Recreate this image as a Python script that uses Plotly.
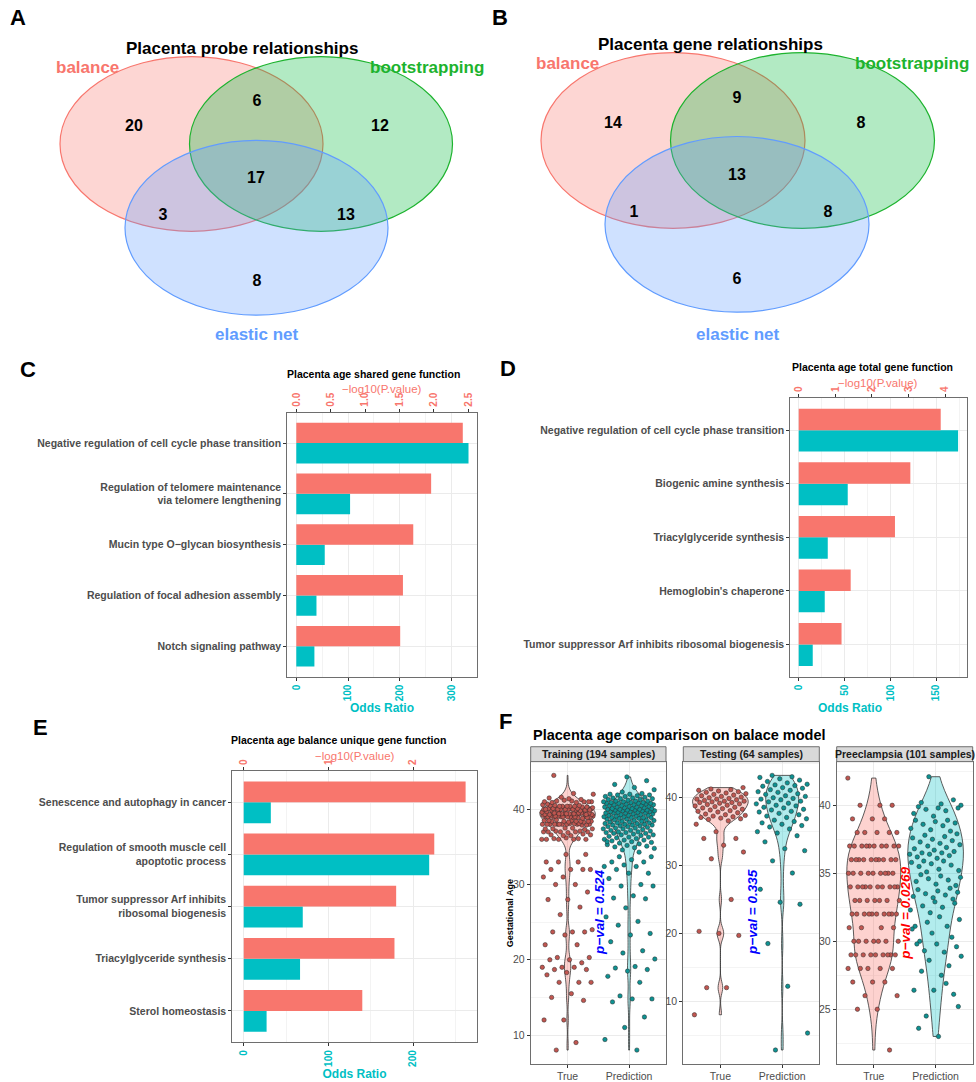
import numpy as np
import plotly.graph_objects as go

W, H = 976, 1082
FONT = "Liberation Sans, Arial, sans-serif"
RED, CYAN = "#F8766D", "#00BFC4"
SET_COLORS = ["#F8766D", "#1DB32E", "#619CFF"]
SET_FILLS = ["rgba(248,118,109,0.30)", "rgba(0,186,56,0.30)", "rgba(97,156,255,0.30)"]

# ---------------- Venn counts ----------------
venn_sets = ["balance", "bootstrapping", "elastic net"]
# region order: bal only, bal&boot, boot only, all three, bal&enet, boot&enet, enet only
probe_counts = [20, 6, 12, 17, 3, 13, 8]
gene_counts = [14, 9, 8, 13, 1, 8, 6]

# ---------------- enrichment results ----------------
shared_terms = ["Negative regulation of cell cycle phase transition",
                "Regulation of telomere maintenance<br>via telomere lengthening",
                "Mucin type O\u2212glycan biosynthesis",
                "Regulation of focal adhesion assembly",
                "Notch signaling pathway"]
shared_neglogp = [2.42, 1.96, 1.70, 1.55, 1.51]
shared_or = [333, 104, 55, 39, 35]

total_terms = ["Negative regulation of cell cycle phase transition",
               "Biogenic amine synthesis",
               "Triacylglyceride synthesis",
               "Hemoglobin's chaperone",
               "Tumor suppressor Arf inhibits ribosomal biogenesis"]
total_neglogp = [3.88, 3.05, 2.63, 1.42, 1.17]
total_or = [174, 53.5, 31.7, 28.4, 15.3]

unique_terms = ["Senescence and autophagy in cancer",
                "Regulation of smooth muscle cell<br>apoptotic process",
                "Tumor suppressor Arf inhibits<br>ribosomal biogenesis",
                "Triacylglyceride synthesis",
                "Sterol homeostasis"]
unique_neglogp = [2.62, 2.25, 1.80, 1.78, 1.40]
unique_or = [32, 219, 69.7, 66.5, 27]

# ---------------- gestational age (weeks) ----------------
train_true = [
    36.0, 36.0, 36.1, 36.0, 36.2, 36.0, 36.1, 36.0,
    36.6, 36.5, 36.6, 36.7, 36.5,
    37.0, 37.0, 37.1, 37.0, 36.9, 37.0, 37.1, 37.0,
    37.4, 37.5, 37.4, 37.3, 37.5, 37.4,
    38.0, 38.0, 38.0, 38.1, 38.0, 37.9, 38.0, 38.0, 38.1, 38.0, 37.9, 38.0, 38.0, 38.1, 38.0,
    38.4, 38.5, 38.4, 38.3, 38.4, 38.5, 38.4, 38.6, 38.4, 38.3, 38.5, 38.4,
    39.0, 39.1, 38.9, 39.0, 39.0, 39.2, 39.0, 38.9, 39.1, 39.0,
    39.0, 39.1, 38.8, 39.0, 39.2, 39.0, 39.1, 38.9, 39.0, 39.0,
    39.4, 39.5, 39.3, 39.4, 39.6, 39.4, 39.5, 39.3, 39.4, 39.6, 39.5, 39.4,
    39.3, 39.5, 39.4, 39.6, 39.4, 39.5, 39.3, 39.4, 39.7, 39.5, 39.4,
    40.0, 40.1, 39.9, 40.0, 40.2, 40.0, 39.9, 40.1, 40.0, 40.0, 40.1,
    39.8, 40.0, 40.2, 40.0, 40.1, 39.9, 40.0, 40.0, 40.1, 40.0, 39.9,
    40.4, 40.5, 40.3, 40.4, 40.6, 40.4, 40.5, 40.3, 40.4, 40.7, 40.5, 40.4,
    41.0, 41.1, 40.9, 41.0, 41.2, 41.0, 40.9, 41.1, 41.0,
    41.4, 41.5, 41.3, 41.6,
    42.0, 42.1,
    44.5, 34.0, 34.0, 33.0, 33.0, 33.0, 32.0, 32.0, 32.0, 32.0, 31.0, 31.0,
    30.0, 30.0, 29.0, 28.0, 28.0, 27.0, 26.0, 24.0, 23.7, 23.7, 23.7, 23.3,
    22.0, 22.0, 20.3, 20.3, 20.0, 20.0, 19.6, 19.0, 19.0, 19.0, 18.7, 18.7,
    18.3, 18.0, 17.0, 17.0, 17.0, 15.5, 15.0, 14.6, 12.0, 12.0, 9.0, 8.0,
]
train_pred = [
    34.6, 34.8, 34.9, 35.0,
    35.1, 35.2, 35.3, 35.4, 35.5, 35.6, 35.7, 35.8, 35.9, 35.9,
    36.0, 36.1, 36.2, 36.3, 36.3, 36.4, 36.5, 36.6, 36.6, 36.7, 36.8, 36.8, 36.9, 36.9,
    37.0, 37.0, 37.1, 37.2, 37.2, 37.3, 37.4, 37.4, 37.5, 37.5, 37.6, 37.7, 37.7, 37.8,
    37.8, 37.9, 37.9, 37.9,
    38.0, 38.0, 38.1, 38.1, 38.2, 38.2, 38.3, 38.3, 38.4, 38.4, 38.5, 38.5, 38.6, 38.6,
    38.7, 38.7, 38.8, 38.8, 38.9, 38.9, 38.9, 38.9,
    39.0, 39.0, 39.1, 39.1, 39.2, 39.2, 39.2, 39.3, 39.3, 39.4, 39.4, 39.5, 39.5, 39.5,
    39.5, 39.6, 39.6, 39.7, 39.7, 39.7, 39.8, 39.8, 39.8, 39.9, 39.9, 39.9, 39.9,
    40.0, 40.0, 40.0, 40.1, 40.1, 40.1, 40.2, 40.2, 40.3, 40.3, 40.3, 40.4, 40.4, 40.5,
    40.5, 40.5, 40.6, 40.6, 40.6, 40.7, 40.7, 40.8, 40.8, 40.8, 40.8, 40.9, 40.9, 40.9,
    41.0, 41.0,
    41.1, 41.1, 41.1, 41.2, 41.3, 41.3, 41.4, 41.4, 41.5, 41.5, 41.6, 41.7, 41.7, 41.8,
    41.9, 41.9, 42.0, 42.0,
    42.1, 42.3, 42.6, 42.9,
    43.3, 43.8,
    44.3, 35.7, 34.3, 33.7, 33.7, 33.3, 33.0, 33.0, 32.6, 32.4, 32.4, 32.0,
    31.5, 31.5, 30.8, 30.0, 29.8, 29.8, 28.5, 28.2, 28.1, 26.9, 25.7, 25.1,
    24.6, 23.5, 23.3, 22.4, 21.2, 20.9, 20.1, 19.1, 18.9, 18.7, 18.5, 17.8,
    17.0, 15.2, 14.8, 14.8, 14.4, 12.4, 11.0, 9.4, 8.0,
]
test_true = [
    8.0, 12.0, 12.0, 19.7, 20.0, 20.3, 25.0, 31.0, 32.0, 33.0, 34.0, 34.0, 35.0, 36.1,
    36.6, 36.8, 36.9, 37.0,
    37.1, 37.2, 37.3, 37.4, 37.5, 37.6, 37.8, 37.9,
    38.0, 38.1, 38.2, 38.3, 38.4, 38.5, 38.6, 38.7, 38.8, 38.9,
    39.0, 39.1, 39.2, 39.3, 39.3, 39.4, 39.5, 39.5, 39.6, 39.7, 39.8, 39.8, 39.9, 40.0,
    40.1, 40.2, 40.3, 40.4, 40.5, 40.6, 40.7, 40.8, 40.9, 41.0,
    41.1, 41.2, 41.3, 41.5,
]
test_pred = [
    2.8, 5.3, 12.2, 18.5, 24.3, 24.6, 26.5, 28.9, 30.7, 32.2, 32.5, 33.5,
    34.4, 34.8, 35.0, 35.4, 35.7, 35.9,
    36.1, 36.3, 36.5, 36.7, 36.9, 37.1, 37.3, 37.5, 37.7, 37.9,
    38.0, 38.2, 38.3, 38.5, 38.6, 38.8, 38.9, 39.1, 39.2, 39.4, 39.5, 39.7, 39.8, 39.9,
    40.0, 40.2, 40.3, 40.5, 40.6, 40.8, 40.9, 41.1, 41.2, 41.4, 41.5, 41.7, 41.8, 41.9,
    42.0, 42.2, 42.4, 42.6, 42.8, 43.0, 43.1, 43.3,
]
pe_true = [
    42,
    40, 40, 40,
    39, 39, 39,
    38, 38, 38, 38, 38,
    37, 37, 37, 37, 37, 37, 37, 37, 37, 37,
    36, 36, 36, 36, 36, 36, 36, 36, 36, 36,
    35, 35, 35, 35, 35, 35, 35, 35, 35,
    34, 34, 34, 34, 34, 34, 34, 34, 34, 34,
    33, 33, 33, 33, 33, 33, 33,
    32, 32, 32, 32, 32, 32, 32, 32, 32, 32,
    31, 31, 31, 31,
    30, 30, 30, 30, 30, 30, 30,
    29, 29, 29, 29, 29, 29, 29, 29, 29,
    28, 28, 28, 28, 28,
    27, 27, 27,
    26, 26,
    25, 25,
    22,
]
pe_pred = [
    42.1,
    40.0, 40.1, 40.2, 40.4,
    39.2, 39.4, 39.6, 39.7, 39.8, 39.8, 39.9,
    38.1, 38.2, 38.3, 38.5, 38.6, 38.7, 38.8, 38.9, 38.9,
    37.0, 37.1, 37.2, 37.3, 37.4, 37.5, 37.6, 37.7, 37.8, 37.9,
    36.1, 36.2, 36.3, 36.4, 36.4, 36.5, 36.5, 36.6, 36.7, 36.8, 36.9,
    35.1, 35.2, 35.3, 35.5, 35.6, 35.7, 35.8, 35.9, 35.9,
    34.1, 34.2, 34.4, 34.5, 34.6, 34.7, 34.8, 34.9,
    33.1, 33.2, 33.3, 33.4, 33.5, 33.6, 33.7, 33.8, 33.9,
    32.1, 32.3, 32.5, 32.6, 32.8, 32.9,
    31.1, 31.1, 31.4, 31.6, 31.8,
    30.0, 30.3, 30.6, 30.9,
    29.2, 29.3, 29.6, 29.8, 29.8,
    28.2, 28.6, 28.9,
    27.5, 27.8,
    26.1, 26.4, 26.4, 26.9,
    24.5, 25.2,
    23.0, 23.6,
]
facet_labels = ["Training (194 samples)", "Testing (64 samples)", "Preeclampsia (101 samples)"]
group_labels = ["True", "Prediction"]
pvals = ["0.524", "0.335", "0.0269"]
pval_colors = ["#0000FF", "#0000FF", "#FF0000"]


def px_x(p):
    return p / W


def px_y(p):
    return 1 - p / H


fig = go.Figure()
layout = {}
annotations = []
shapes = []


def note(text, x, y, size, color="black", bold=True, angle=0, xanchor="center",
         yanchor="middle", xref="paper", yref="paper", pixel=True):
    if bold:
        text = "<b>" + text + "</b>"
    if pixel and xref == "paper":
        x = px_x(x)
    if pixel and yref == "paper":
        y = px_y(y)
    annotations.append(dict(text=text, x=x, y=y, xref=xref, yref=yref, showarrow=False,
                            textangle=angle, xanchor=xanchor, yanchor=yanchor,
                            font=dict(family=FONT, size=size, color=color)))


# ---------------- panels A and B: Venn diagrams ----------------
layout["xaxis"] = dict(domain=[0, 1], range=[0, W], visible=False)
layout["yaxis"] = dict(domain=[px_y(360), 1], range=[360, 0], visible=False)

venn_panels = [
    dict(counts=probe_counts, title="Placenta probe relationships", letter="A",
         letter_xy=(18, 18), title_xy=(242, 49),
         centers=[(191.5, 145), (321, 145), (256.5, 229.5)], rx=131.5, ry=88,
         num_xy=[(134, 128), (257, 103), (380, 128), (256, 180), (163, 218), (346, 218), (257, 284)],
         lab_xy=[(87, 68), (427, 68), (256, 337)]),
    dict(counts=gene_counts, title="Placenta gene relationships", letter="B",
         letter_xy=(500, 18), title_xy=(710, 45),
         centers=[(673, 141.5), (802.5, 141.5), (737, 226)], rx=132, ry=88.5,
         num_xy=[(613, 125), (737, 100), (861, 125), (737, 177), (634, 215), (828, 215), (737, 282)],
         lab_xy=[(567, 64), (912, 64), (737, 337)]),
]
for vp in venn_panels:
    for k, (cx, cy) in enumerate(vp["centers"]):
        shapes.append(dict(type="circle", xref="x", yref="y",
                           x0=cx - vp["rx"], x1=cx + vp["rx"], y0=cy - vp["ry"], y1=cy + vp["ry"],
                           fillcolor=SET_FILLS[k], line=dict(color=SET_COLORS[k], width=1.2),
                           layer="below"))
        note(venn_sets[k], vp["lab_xy"][k][0], vp["lab_xy"][k][1], 17, SET_COLORS[k],
             xref="x", yref="y")
    fig.add_trace(go.Scatter(x=[p[0] for p in vp["num_xy"]], y=[p[1] for p in vp["num_xy"]],
                             mode="text", text=[str(c) for c in vp["counts"]],
                             textfont=dict(family=FONT, size=16, color="black", weight="bold"),
                             xaxis="x", yaxis="y", hoverinfo="skip", showlegend=False))
    note(vp["title"], vp["title_xy"][0], vp["title_xy"][1], 17)
    note(vp["letter"], vp["letter_xy"][0], vp["letter_xy"][1], 22)


# ---------------- panels C, D, E: enrichment bars ----------------
def bar_panel(n, terms, neglogp, odds, box, or_rng, or_ticks, or_minor, p_rng, p_ticks,
              p_text, title, title_xy, ptitle_xy, ortitle_xy, letter, letter_xy):
    xb, xt, ya = "x%d" % n, "x%d" % (n + 1), "y%d" % n
    left, right, top, bottom = box
    pos = list(range(1, len(terms) + 1))
    fig.add_trace(go.Bar(x=odds, y=pos, orientation="h", width=0.4, offset=0,
                         marker=dict(color=CYAN, line=dict(width=0)),
                         xaxis=xb, yaxis=ya, showlegend=False, hoverinfo="skip"))
    fig.add_trace(go.Bar(x=neglogp, y=pos, orientation="h", width=0.4, offset=-0.4,
                         marker=dict(color=RED, line=dict(width=0)),
                         xaxis=xt, yaxis=ya, showlegend=False, hoverinfo="skip"))
    layout["xaxis%d" % n] = dict(
        domain=[px_x(left), px_x(right)], anchor=ya, range=or_rng,
        tickmode="array", tickvals=or_ticks, ticktext=[str(t) for t in or_ticks],
        tickangle=-90, tickfont=dict(family=FONT, size=10, color=CYAN, weight="bold"),
        ticks="outside", ticklen=3, tickcolor="#333333",
        showgrid=True, gridcolor="#EBEBEB", gridwidth=1,
        minor=dict(tickmode="array", tickvals=or_minor, showgrid=True,
                   gridcolor="#F3F3F3", gridwidth=0.6, ticks=""),
        showline=True, mirror=True, linecolor="#6E6E6E", linewidth=1, zeroline=False)
    if ortitle_xy is None:
        # axis title placed by the axis itself, right under the tick labels
        layout["xaxis%d" % n]["title"] = dict(
            text="<b>Odds Ratio</b>", standoff=0,
            font=dict(family=FONT, size=12, color=CYAN))
    else:
        note("Odds Ratio", ortitle_xy[0], ortitle_xy[1], 12, CYAN, yanchor="top")
    layout["xaxis%d" % (n + 1)] = dict(
        overlaying=xb, side="top", anchor=ya, range=p_rng,
        tickmode="array", tickvals=p_ticks, ticktext=p_text,
        tickangle=-90, tickfont=dict(family=FONT, size=10, color=RED, weight="bold"),
        ticks="outside", ticklen=3, tickcolor="#333333",
        showgrid=False, zeroline=False, showline=False)
    layout["yaxis%d" % n] = dict(
        domain=[px_y(bottom), px_y(top)], anchor=xb, range=[len(terms) + 0.6, 0.4],
        tickmode="array", tickvals=pos, ticktext=terms,
        tickfont=dict(family=FONT, size=10.5, color="#4D4D4D", weight="bold"),
        ticks="outside", ticklen=3, tickcolor="#333333",
        showgrid=True, gridcolor="#EBEBEB", showline=True, mirror=True,
        linecolor="#6E6E6E", linewidth=1, zeroline=False)
    note(title, title_xy[0], title_xy[1], 10.5)
    note("\u2212log10(P.value)", ptitle_xy[0], ptitle_xy[1], 11.5, RED, bold=False)
    note(letter, letter_xy[0], letter_xy[1], 22)


bar_panel(3, shared_terms, shared_neglogp, shared_or, (287.3, 477.3, 415.7, 681.7),
          [-17.4, 350], [0, 100, 200, 300], [50, 150, 250],
          [-0.131, 2.631], [0, 0.5, 1, 1.5, 2, 2.5], ["0.0", "0.5", "1.0", "1.5", "2.0", "2.5"],
          "Placenta age shared gene function", (373, 377), (382, 392), (382, 704),
          "C", (28, 372))
bar_panel(5, total_terms, total_neglogp, total_or, (790.3, 966.7, 401, 681.7),
          [-9.2, 183.4], [0, 50, 100, 150], [25, 75, 125, 175],
          [-0.23, 4.59], [0, 1, 2, 3, 4], ["0", "1", "2", "3", "4"],
          "Placenta age total gene function", (872, 370), (878, 386), (850, 704),
          "D", (508, 371))
bar_panel(7, unique_terms, unique_neglogp, unique_or, (232.3, 476.7, 776.7, 1050),
          [-13.5, 275.1], [0, 100, 200], [50, 150, 250],
          [-0.135, 2.751], [0, 1, 2], ["0", "1", "2"],
          "Placenta age balance unique gene function", (338, 746), (355, 762), None,
          "E", (40, 733))


# ---------------- panel F: violins with jittered points ----------------
def nrd0(v):
    v = np.asarray(v, dtype=float)
    q75, q25 = np.percentile(v, [75, 25])
    lo = min(v.std(ddof=1), (q75 - q25) / 1.34)
    return 0.9 * lo * len(v) ** -0.2


def peak_density(v, bw):
    # maximum of the gaussian kernel density over the trimmed data range
    v = np.asarray(v, dtype=float)
    grid = np.linspace(v.min(), v.max(), 512)
    z = (grid[:, None] - v[None, :]) / bw
    dens = np.exp(-0.5 * z ** 2).sum(axis=1) / (len(v) * bw * np.sqrt(2 * np.pi))
    return dens.max()


def spread(n, half=0.42, phase=0.0):
    # deterministic low-discrepancy horizontal spread of the points
    k = np.arange(n)
    return half * (2 * ((k * 0.6180339887 + phase) % 1.0) - 1)


facets = [
    dict(true=train_true, pred=train_pred, left=530.7, right=666, rng=[6.18, 46.33],
         tick0=10, dtick=10, mdtick=5, pv_y=26.3),
    dict(true=test_true, pred=test_pred, left=683.3, right=819.3, rng=[0.77, 45.33],
         tick0=10, dtick=10, mdtick=5, pv_y=23.1),
    dict(true=pe_true, pred=pe_pred, left=836.7, right=972.7, rng=[20.99, 43.21],
         tick0=25, dtick=5, mdtick=2.5, pv_y=32.1),
]
PANEL_TOP, PANEL_BOTTOM, STRIP_TOP = 767.3, 1071.7, 752.3
fills = ["rgba(248,118,109,0.33)", "rgba(0,191,196,0.30)"]
dots = ["rgb(192,86,80)", "rgb(14,146,146)"]

for i, fc in enumerate(facets):
    n = 9 + i
    xa, ya = "x%d" % n, "y%d" % n
    groups = [fc["true"], fc["pred"]]
    bws = [nrd0(v) for v in groups]
    peaks = [peak_density(v, b) for v, b in zip(groups, bws)]
    # equal-area scaling: the violin with the highest density peak gets the full width
    widths = [0.9 * p / max(peaks) for p in peaks]
    for g, vals in enumerate(groups):
        fig.add_trace(go.Violin(y=vals, x0=g + 1, width=widths[g],
                                scalemode="width", spanmode="hard", bandwidth=bws[g],
                                points=False, fillcolor=fills[g],
                                line=dict(color="#333333", width=0.8),
                                box=dict(visible=False), meanline=dict(visible=False),
                                xaxis=xa, yaxis=ya, showlegend=False, hoverinfo="skip"))
    for g, vals in enumerate(groups):
        xs = (g + 1) + spread(len(vals), phase=0.37 * g)
        fig.add_trace(go.Scatter(x=xs, y=vals, mode="markers",
                                 marker=dict(size=4.4, color=dots[g],
                                             line=dict(color="#2A2A2A", width=0.5)),
                                 xaxis=xa, yaxis=ya, showlegend=False, hoverinfo="skip"))
    layout["xaxis%d" % n] = dict(
        domain=[px_x(fc["left"]), px_x(fc["right"])], anchor=ya, range=[0.4, 2.6],
        tickmode="array", tickvals=[1, 2], ticktext=group_labels,
        tickfont=dict(family=FONT, size=10.5, color="#4D4D4D"),
        ticks="outside", ticklen=3, tickcolor="#333333",
        showgrid=True, gridcolor="#EBEBEB", showline=True, mirror=True,
        linecolor="#6E6E6E", linewidth=1, zeroline=False)
    layout["yaxis%d" % n] = dict(
        domain=[px_y(PANEL_BOTTOM), px_y(PANEL_TOP)], anchor=xa, range=fc["rng"],
        tickmode="linear", tick0=fc["tick0"], dtick=fc["dtick"],
        tickfont=dict(family=FONT, size=10.5, color="#4D4D4D"),
        ticks="outside", ticklen=3, tickcolor="#333333",
        showgrid=True, gridcolor="#EBEBEB",
        minor=dict(dtick=fc["mdtick"], showgrid=True, gridcolor="#F4F4F4", gridwidth=0.6, ticks=""),
        showline=True, mirror=True, linecolor="#6E6E6E", linewidth=1, zeroline=False)
    shapes.append(dict(type="rect", xref="paper", yref="paper",
                       x0=px_x(fc["left"]), x1=px_x(fc["right"]),
                       y0=px_y(PANEL_TOP), y1=px_y(STRIP_TOP),
                       fillcolor="#D9D9D9", line=dict(color="#6E6E6E", width=1)))
    note(facet_labels[i], (fc["left"] + fc["right"]) / 2, (PANEL_TOP + STRIP_TOP) / 2, 10.5,
         "#1A1A1A", bold=True)
    note("<i>p\u2212val = " + pvals[i] + "</i>", 1.52, fc["pv_y"], 13.5, pval_colors[i],
         angle=-90, xref=xa, yref=ya, pixel=False)

note("Placenta age comparison on balace model", 530.7, 740.7, 14.5, xanchor="left")
note("Gestational Age", 510, 920, 9, angle=-90)
note("F", 505, 727, 22)

layout.update(dict(
    width=W, height=H, margin=dict(l=0, r=0, t=0, b=0), autosize=False,
    paper_bgcolor="white", plot_bgcolor="white",
    font=dict(family=FONT), showlegend=False,
    barmode="overlay", violinmode="overlay", violingap=0, violingroupgap=0,
    annotations=annotations, shapes=shapes,
))
fig.update_layout(**layout)
fig.write_html("out.html")
